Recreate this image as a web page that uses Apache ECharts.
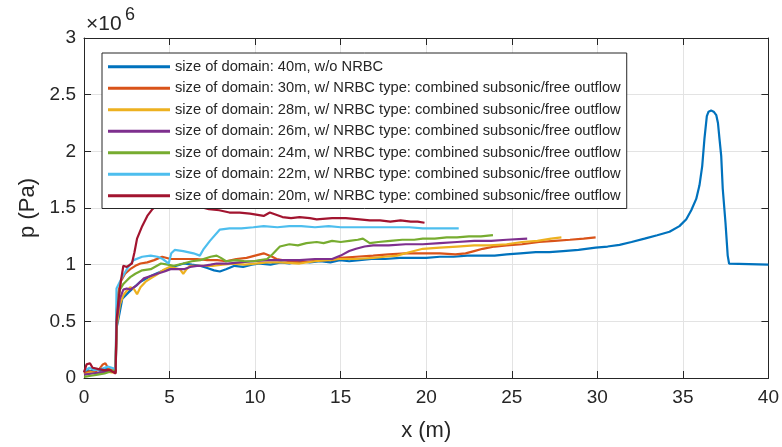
<!DOCTYPE html>
<html>
<head>
<meta charset="utf-8">
<script src="https://cdn.jsdelivr.net/npm/echarts@6/dist/echarts.min.js"></script>
<style>
  html, body { margin: 0; padding: 0; background: #ffffff; }
  #chart { width: 782px; height: 447px; }
</style>
</head>
<body>
<div id="chart"></div>
<script>
// Pressure along the domain; p values are in units of 10^6 Pa (axis carries the ×10^6 factor).

const seriesNames = [
  'size of domain: 40m, w/o NRBC',
  'size of domain: 30m, w/ NRBC type: combined subsonic/free outflow',
  'size of domain: 28m, w/ NRBC type: combined subsonic/free outflow',
  'size of domain: 26m, w/ NRBC type: combined subsonic/free outflow',
  'size of domain: 24m, w/ NRBC type: combined subsonic/free outflow',
  'size of domain: 22m, w/ NRBC type: combined subsonic/free outflow',
  'size of domain: 20m, w/ NRBC type: combined subsonic/free outflow'
];

const seriesColors = ['#0072BD', '#D95319', '#EDB120', '#7E2F8E', '#77AC30', '#4DBEEE', '#A2142F'];

// 40 m domain, no NRBC
const x40 = [0, 0.2, 0.4, 0.7, 1.0, 1.3, 1.6, 1.85, 1.9, 2.05, 2.24, 2.63, 3.0, 3.3, 3.9, 4.5, 5.0, 5.4, 5.84, 6.3,
  6.77, 7.2, 7.6, 7.94, 8.3, 8.8, 9.3, 9.8, 10.3, 10.9, 11.5, 12.0, 12.6, 13.2, 13.8, 14.4, 14.95, 15.5, 16.1, 16.8,
  17.6, 18.45, 19.2, 20.0, 20.8, 21.6, 22.4, 23.2, 24.0, 24.7, 25.5, 26.4, 27.2, 28.0, 28.9, 29.9, 30.6, 31.3, 32.0, 32.76,
  33.5, 34.22, 34.8, 35.2, 35.49, 35.78, 35.97, 36.13, 36.26, 36.4, 36.5, 36.65, 36.8, 36.95, 37.05, 37.14, 37.24, 37.33, 37.49, 37.62,
  37.7, 37.78, 40];
const p40 = [0.05, 0.07, 0.06, 0.08, 0.06, 0.09, 0.06, 0.05, 0.44, 0.55, 0.70, 0.76, 0.81, 0.85, 0.90, 0.94, 0.97, 0.99, 1.01, 1.00,
  0.99, 0.97, 0.95, 0.94, 0.96, 0.99, 0.98, 1.00, 1.01, 1.00, 1.02, 1.01, 1.03, 1.02, 1.03, 1.02, 1.04, 1.03, 1.04, 1.05,
  1.05, 1.06, 1.06, 1.06, 1.07, 1.07, 1.08, 1.08, 1.08, 1.09, 1.10, 1.11, 1.11, 1.12, 1.13, 1.15, 1.16, 1.175, 1.20, 1.23,
  1.26, 1.29, 1.34, 1.40, 1.48, 1.58, 1.70, 1.87, 2.11, 2.31, 2.35, 2.36, 2.35, 2.32, 2.25, 2.11, 1.96, 1.67, 1.37, 1.08,
  1.01, 1.00, 1.00];

// 30 m domain
const x30 = [0, 0.3, 0.6, 0.9, 1.1, 1.25, 1.4, 1.6, 1.85, 1.9, 2.0, 2.14, 2.4, 2.7, 3.0, 3.3, 3.7, 4.1, 4.57, 5.06,
  5.5, 6.0, 6.6, 7.2, 7.8, 8.3, 8.9, 9.5, 10.0, 10.5, 11.0, 11.25, 12.0, 12.6, 13.3, 14.0, 14.5, 15.0, 15.9, 16.9,
  17.8, 18.8, 19.8, 20.8, 21.7, 22.3, 22.8, 23.3, 24.0, 24.7, 25.6, 26.6, 27.5, 28.4, 29.2, 29.9];
const p30 = [0.04, 0.06, 0.05, 0.08, 0.12, 0.13, 0.09, 0.07, 0.06, 0.55, 0.75, 0.85, 0.92, 0.96, 0.99, 1.01, 1.02, 1.04, 1.07, 1.05,
  1.05, 1.05, 1.05, 1.04, 1.04, 1.03, 1.05, 1.06, 1.08, 1.10, 1.07, 1.05, 1.03, 1.02, 1.03, 1.04, 1.04, 1.06, 1.07, 1.08,
  1.09, 1.10, 1.10, 1.10, 1.09, 1.10, 1.12, 1.14, 1.16, 1.17, 1.18, 1.20, 1.21, 1.22, 1.23, 1.24];

// 28 m domain
const x28 = [0, 0.4, 0.8, 1.2, 1.6, 1.85, 1.9, 2.1, 2.3, 2.5, 2.7, 2.9, 3.1, 3.3, 3.6, 3.9, 4.24, 4.6, 5.0, 5.3,
  5.6, 5.8, 6.0, 6.2, 6.8, 7.5, 8.1, 8.7, 9.4, 10.0, 10.7, 11.5, 12.6, 13.5, 14.2, 14.95, 15.9, 16.9, 17.6, 18.3,
  19.0, 19.8, 20.8, 21.8, 22.8, 23.7, 24.7, 25.6, 26.5, 27.3, 27.9];
const p28 = [0.03, 0.05, 0.04, 0.06, 0.05, 0.05, 0.45, 0.65, 0.73, 0.77, 0.80, 0.79, 0.74, 0.80, 0.85, 0.88, 0.91, 0.95, 0.98, 0.97,
  0.96, 0.92, 0.96, 0.99, 0.99, 0.99, 1.00, 1.01, 1.00, 1.01, 1.02, 1.02, 1.01, 1.03, 1.04, 1.05, 1.05, 1.06, 1.07, 1.08,
  1.11, 1.14, 1.15, 1.16, 1.17, 1.17, 1.18, 1.20, 1.21, 1.23, 1.24];

// 26 m domain
const x26 = [0, 0.5, 1.0, 1.5, 1.85, 1.9, 2.1, 2.3, 2.5, 2.7, 2.9, 3.1, 3.5, 3.9, 4.28, 4.7, 5.06, 5.5, 5.84, 6.2,
  6.6, 7.0, 7.4, 7.75, 8.4, 9.1, 9.9, 10.7, 11.6, 12.6, 13.5, 14.5, 15.0, 15.5, 15.9, 16.4, 16.9, 17.8, 18.8, 19.8,
  20.8, 21.8, 22.8, 23.8, 24.7, 25.9];
const p26 = [0.03, 0.04, 0.05, 0.06, 0.06, 0.50, 0.70, 0.78, 0.79, 0.78, 0.80, 0.82, 0.88, 0.90, 0.92, 0.94, 0.96, 0.96, 0.96, 0.98,
  0.99, 0.99, 1.00, 1.01, 1.01, 1.02, 1.03, 1.04, 1.04, 1.04, 1.05, 1.05, 1.08, 1.12, 1.14, 1.16, 1.17, 1.17, 1.18, 1.18,
  1.19, 1.20, 1.21, 1.21, 1.22, 1.23];

// 24 m domain
const x24 = [0, 0.4, 0.8, 1.2, 1.6, 1.85, 1.9, 2.1, 2.3, 2.5, 2.7, 3.0, 3.4, 3.9, 4.5, 4.9, 5.25, 5.8, 6.3, 6.8,
  7.4, 7.75, 8.0, 8.3, 8.9, 9.4, 9.9, 10.3, 10.7, 11.0, 11.25, 11.45, 12.0, 12.5, 13.0, 13.6, 14.0, 14.5, 15.0, 15.5,
  16.0, 16.3, 16.7, 17.2, 17.9, 18.6, 19.3, 19.8, 20.5, 21.2, 21.8, 22.5, 23.2, 23.9];
const p24 = [0.01, 0.02, 0.03, 0.04, 0.06, 0.08, 0.60, 0.78, 0.83, 0.86, 0.89, 0.92, 0.95, 0.96, 1.01, 1.00, 0.99, 1.01, 1.03, 1.04,
  1.07, 1.08, 1.06, 1.03, 1.04, 1.03, 1.03, 1.04, 1.05, 1.09, 1.13, 1.16, 1.18, 1.17, 1.19, 1.20, 1.19, 1.21, 1.20, 1.21,
  1.22, 1.23, 1.19, 1.20, 1.21, 1.22, 1.22, 1.23, 1.23, 1.24, 1.24, 1.25, 1.25, 1.26];

// 22 m domain
const x22 = [0, 0.3, 0.6, 1.0, 1.4, 1.85, 1.9, 2.2, 2.5, 2.9, 3.4, 3.9, 4.3, 4.6, 4.95, 5.1, 5.3, 5.8, 6.4, 6.77,
  7.0, 7.36, 7.94, 8.5, 9.2, 9.9, 10.5, 11.3, 12.0, 12.7, 13.5, 14.3, 15.0, 15.8, 16.6, 17.4, 18.2, 19.0, 19.8, 20.6,
  21.3, 21.9];
const p22 = [0.06, 0.09, 0.07, 0.08, 0.10, 0.08, 0.79, 0.88, 0.96, 1.04, 1.07, 1.08, 1.07, 1.05, 1.01, 1.10, 1.13, 1.12, 1.10, 1.08,
  1.14, 1.21, 1.31, 1.32, 1.32, 1.33, 1.34, 1.33, 1.34, 1.34, 1.33, 1.34, 1.33, 1.33, 1.33, 1.33, 1.33, 1.33, 1.32, 1.32,
  1.32, 1.32];

// 20 m domain
const x20 = [0, 0.15, 0.35, 0.5, 0.8, 1.2, 1.5, 1.85, 1.9, 2.0, 2.15, 2.3, 2.5, 2.8, 2.95, 3.1, 3.4, 3.7, 4.0, 4.3,
  4.6, 5.0, 5.4, 5.65, 6.0, 6.4, 6.8, 7.3, 7.9, 8.5, 9.1, 9.7, 10.5, 10.86, 11.6, 12.1, 12.6, 13.2, 13.6, 14.5,
  15.3, 16.1, 16.7, 17.3, 17.9, 18.5, 19.1, 19.5, 19.9];
const p20 = [0.05, 0.12, 0.13, 0.09, 0.08, 0.07, 0.07, 0.04, 0.50, 0.67, 0.85, 0.99, 0.98, 1.01, 1.11, 1.23, 1.34, 1.43, 1.49, 1.53,
  1.56, 1.58, 1.56, 1.52, 1.50, 1.52, 1.51, 1.49, 1.48, 1.46, 1.46, 1.45, 1.43, 1.46, 1.42, 1.41, 1.42, 1.41, 1.40, 1.41,
  1.41, 1.40, 1.39, 1.39, 1.38, 1.39, 1.38, 1.38, 1.37];

const xValues = [x40, x30, x28, x26, x24, x22, x20];
const pValues = [p40, p30, p28, p26, p24, p22, p20];

const xTicks = [0, 5, 10, 15, 20, 25, 30, 35, 40];
const yTicks = [0, 0.5, 1, 1.5, 2, 2.5, 3];

const FONT = '"Liberation Sans", Arial, Helvetica, sans-serif';
const INK = '#262626';
const GRID = '#e3e3e3';

const chart = echarts.init(document.getElementById('chart'), null, { renderer: 'canvas' });

const series = seriesNames.map((name, i) => ({
  name: name,
  type: 'line',
  xAxisIndex: 0,
  yAxisIndex: 0,
  data: xValues[i].map((x, k) => [x, pValues[i][k]]),
  showSymbol: false,
  symbol: 'none',
  smooth: false,
  clip: true,
  lineStyle: { color: seriesColors[i], width: 2.2 },
  itemStyle: { color: seriesColors[i] },
  emphasis: { disabled: true },
  z: 2 + i * 0.01
}));

const tickLabel = { color: INK, fontFamily: FONT, fontSize: 19 };

const option = {
  animation: false,
  backgroundColor: '#ffffff',
  textStyle: { fontFamily: FONT },
  grid: { left: 84, right: 13, top: 38, bottom: 67, containLabel: false },
  xAxis: [
    {
      type: 'value', position: 'bottom',
      min: xTicks[0], max: xTicks[xTicks.length - 1], interval: xTicks[1] - xTicks[0],
      name: 'x (m)', nameLocation: 'middle', nameGap: 42,
      nameTextStyle: { color: INK, fontFamily: FONT, fontSize: 22 },
      axisLine: { show: true, lineStyle: { color: INK, width: 1 } },
      axisTick: { show: true, inside: true, length: 7, lineStyle: { color: INK } },
      axisLabel: Object.assign({ margin: 10 }, tickLabel),
      splitLine: { show: true, lineStyle: { color: GRID, width: 1 } }
    },
    {
      type: 'value', position: 'top',
      min: xTicks[0], max: xTicks[xTicks.length - 1], interval: xTicks[1] - xTicks[0],
      axisLine: { show: true, onZero: false, lineStyle: { color: INK, width: 1 } },
      axisTick: { show: true, inside: true, length: 7, lineStyle: { color: INK } },
      axisLabel: { show: false },
      splitLine: { show: false }
    }
  ],
  yAxis: [
    {
      type: 'value', position: 'left',
      min: yTicks[0], max: yTicks[yTicks.length - 1], interval: yTicks[1] - yTicks[0],
      name: 'p (Pa)', nameLocation: 'middle', nameGap: 44, nameRotate: 90,
      nameTextStyle: { color: INK, fontFamily: FONT, fontSize: 22 },
      axisLine: { show: true, onZero: false, lineStyle: { color: INK, width: 1 } },
      axisTick: { show: true, inside: true, length: 7, lineStyle: { color: INK } },
      axisLabel: Object.assign({ margin: 8, formatter: v => String(v) }, tickLabel),
      splitLine: { show: true, lineStyle: { color: GRID, width: 1 } }
    },
    {
      type: 'value', position: 'right',
      min: yTicks[0], max: yTicks[yTicks.length - 1], interval: yTicks[1] - yTicks[0],
      axisLine: { show: true, onZero: false, lineStyle: { color: INK, width: 1 } },
      axisTick: { show: true, inside: true, length: 7, lineStyle: { color: INK } },
      axisLabel: { show: false },
      splitLine: { show: false }
    }
  ],
  legend: {
    show: true,
    orient: 'vertical',
    left: 102, top: 53,
    padding: [3, 6, 2, 6],
    itemGap: 0,
    itemWidth: 62, itemHeight: 3,
    icon: 'rect',
    backgroundColor: '#ffffff',
    borderColor: INK, borderWidth: 1,
    selectedMode: false,
    textStyle: { color: INK, fontFamily: FONT, fontSize: 14.7, lineHeight: 21.5 },
    data: seriesNames,
    z: 10
  },
  graphic: [
    { type: 'text', left: 86, top: 14, z: 10,
      style: { text: '×10', fill: INK, font: '21px ' + FONT } },
    { type: 'text', left: 125, top: 6, z: 10,
      style: { text: '6', fill: INK, font: '18px ' + FONT } }
  ],
  series: series
};

chart.setOption(option);
</script>
</body>
</html>
